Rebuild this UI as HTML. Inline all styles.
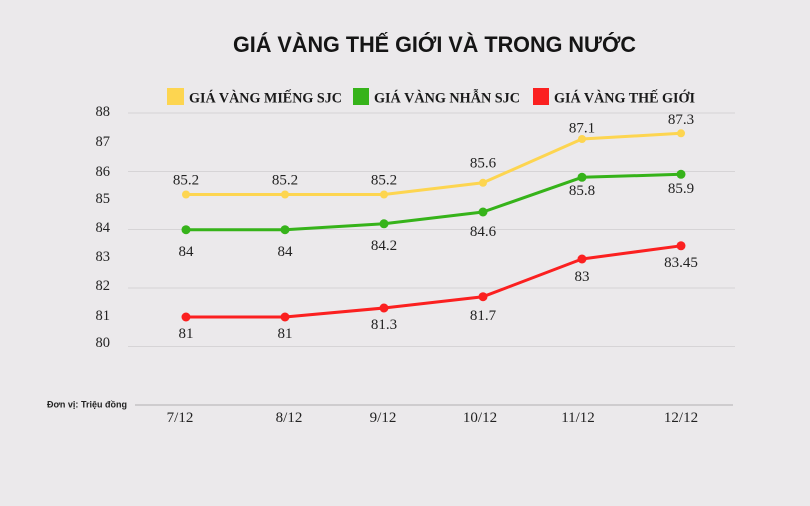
<!DOCTYPE html>
<html><head><meta charset="utf-8"><style>
html,body{margin:0;padding:0;background:#ebe9eb;}
svg{display:block;}
</style></head><body>
<svg width="810" height="506" viewBox="0 0 810 506" xmlns="http://www.w3.org/2000/svg">
<rect width="810" height="506" fill="#ebe9eb"/>
<text x="233" y="52" font-family="Liberation Sans, sans-serif" font-weight="bold" font-size="22" fill="#151515" textLength="403" lengthAdjust="spacingAndGlyphs">GIÁ VÀNG THẾ GIỚI VÀ TRONG NƯỚC</text>
<!-- legend -->
<rect x="167" y="88" width="17" height="17" fill="#fdd550"/>
<text x="189" y="102.5" font-family="Liberation Serif, serif" font-weight="bold" font-size="15" fill="#1a1a1a" textLength="153" lengthAdjust="spacingAndGlyphs">GIÁ VÀNG MIẾNG SJC</text>
<rect x="353" y="88" width="16" height="17" fill="#36b31a"/>
<text x="374" y="102.5" font-family="Liberation Serif, serif" font-weight="bold" font-size="15" fill="#1a1a1a" textLength="146" lengthAdjust="spacingAndGlyphs">GIÁ VÀNG NHẪN SJC</text>
<rect x="533" y="88" width="16" height="17" fill="#fb2020"/>
<text x="554" y="102.5" font-family="Liberation Serif, serif" font-weight="bold" font-size="15" fill="#1a1a1a" textLength="141" lengthAdjust="spacingAndGlyphs">GIÁ VÀNG THẾ GIỚI</text>
<!-- gridlines -->
<g stroke="#d6d4d6" stroke-width="1">
<line x1="128" y1="113" x2="735" y2="113"/>
<line x1="128" y1="171.5" x2="735" y2="171.5"/>
<line x1="128" y1="229.5" x2="735" y2="229.5"/>
<line x1="128" y1="288" x2="735" y2="288"/>
<line x1="128" y1="346.5" x2="735" y2="346.5"/>
</g>
<line x1="135" y1="405" x2="733" y2="405" stroke="#bdbbbd" stroke-width="1.3"/>
<!-- y labels -->
<g font-family="Liberation Serif, serif" font-size="14.5" fill="#222" text-anchor="end">
<text x="110" y="116">88</text>
<text x="110" y="146">87</text>
<text x="110" y="176">86</text>
<text x="110" y="203">85</text>
<text x="110" y="232">84</text>
<text x="110" y="261">83</text>
<text x="110" y="290">82</text>
<text x="110" y="320">81</text>
<text x="110" y="347">80</text>
</g>
<text x="47" y="407.5" font-family="Liberation Sans, sans-serif" font-weight="bold" font-size="9.5" fill="#222" textLength="80" lengthAdjust="spacingAndGlyphs">Đơn vị: Triệu đồng</text>
<!-- x labels -->
<g font-family="Liberation Serif, serif" font-size="15" fill="#222" text-anchor="middle">
<text x="180" y="422">7/12</text>
<text x="289" y="422">8/12</text>
<text x="383" y="422">9/12</text>
<text x="480" y="422">10/12</text>
<text x="578" y="422">11/12</text>
<text x="681" y="422">12/12</text>
</g>
<!-- series -->
<g fill="none" stroke-width="3" stroke-linejoin="round" stroke-linecap="round">
<polyline stroke="#fdd550" points="186,194.5 285,194.5 384,194.5 483,182.8 582,139 681,133.3"/>
<polyline stroke="#36b31a" points="186,229.7 285,229.7 384,223.8 483,212 582,177.3 681,174.3"/>
<polyline stroke="#fb2020" points="186,317 285,317 384,308 483,296.7 582,259 681,245.8"/>
</g>
<g fill="#fdd550">
<circle cx="186" cy="194.5" r="4"/><circle cx="285" cy="194.5" r="4"/><circle cx="384" cy="194.5" r="4"/><circle cx="483" cy="182.8" r="4"/><circle cx="582" cy="139" r="4"/><circle cx="681" cy="133.3" r="4"/>
</g>
<g fill="#36b31a">
<circle cx="186" cy="229.7" r="4.5"/><circle cx="285" cy="229.7" r="4.5"/><circle cx="384" cy="223.8" r="4.5"/><circle cx="483" cy="212" r="4.5"/><circle cx="582" cy="177.3" r="4.5"/><circle cx="681" cy="174.3" r="4.5"/>
</g>
<g fill="#fb2020">
<circle cx="186" cy="317" r="4.5"/><circle cx="285" cy="317" r="4.5"/><circle cx="384" cy="308" r="4.5"/><circle cx="483" cy="296.7" r="4.5"/><circle cx="582" cy="259" r="4.5"/><circle cx="681" cy="245.8" r="4.5"/>
</g>
<!-- data labels -->
<g font-family="Liberation Serif, serif" font-size="15" fill="#222" text-anchor="middle">
<text x="186" y="184.5">85.2</text>
<text x="285" y="184.5">85.2</text>
<text x="384" y="184.5">85.2</text>
<text x="483" y="167.5">85.6</text>
<text x="582" y="132.5">87.1</text>
<text x="681" y="124">87.3</text>

<text x="186" y="256">84</text>
<text x="285" y="256">84</text>
<text x="384" y="250">84.2</text>
<text x="483" y="236">84.6</text>
<text x="582" y="195">85.8</text>
<text x="681" y="193">85.9</text>

<text x="186" y="338">81</text>
<text x="285" y="338">81</text>
<text x="384" y="329">81.3</text>
<text x="483" y="320">81.7</text>
<text x="582" y="281">83</text>
<text x="681" y="267">83.45</text>
</g>
</svg>
</body></html>
